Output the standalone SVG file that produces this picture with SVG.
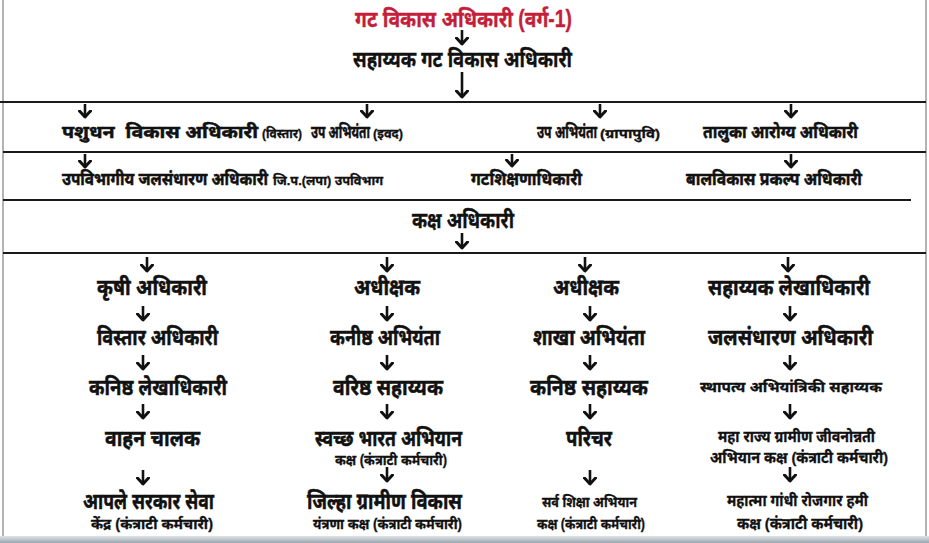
<svg xmlns="http://www.w3.org/2000/svg" width="929" height="543" viewBox="0 0 929 543">
<defs>
<style>
text{font-family:"Liberation Sans","Noto Sans Devanagari","Noto Sans",sans-serif;font-weight:bold;fill:#111;stroke:#111;stroke-width:0.35}
.t{fill:#c41e3a;stroke:#c41e3a;font-size:23px}
.h{font-size:22px}
.r{font-size:12.5px;stroke-width:0.35}
.s{font-size:8.5px;stroke-width:0.2}
.m{font-size:23px;stroke-width:0.5}
.n{font-size:14.5px;stroke-width:0.3}
.k{font-size:15.5px;stroke-width:0.3}
.ln{stroke:#1a1a1a;stroke-width:2.2}
.bd{stroke:#9a9a9a;stroke-width:1.5}
.ar{stroke:#111;stroke-width:2.6;fill:none;marker-end:url(#ah)}
</style>
<marker id="ah" viewBox="0 0 9 14" refX="7.5" refY="7" markerWidth="9" markerHeight="14" markerUnits="userSpaceOnUse" orient="auto">
<path d="M1.5,1.5 L7.5,7 L1.5,12.5" fill="none" stroke="#111" stroke-width="3" stroke-linecap="round" stroke-linejoin="round"/>
</marker>
<linearGradient id="bot" x1="0" y1="0" x2="0" y2="1">
<stop offset="0" stop-color="#dfe4e8"/>
<stop offset="1" stop-color="#9aa6ae"/>
</linearGradient>
</defs>
<rect width="929" height="543" fill="#fff"/>
<g id="frame">
<line class="bd" x1="3" y1="0" x2="3" y2="538"/>
<line class="bd" x1="926" y1="0" x2="926" y2="538"/>
<line class="ln" x1="0" y1="102" x2="926" y2="102"/>
<line class="ln" x1="3" y1="152" x2="926" y2="152"/>
<line class="ln" x1="3" y1="200" x2="911" y2="200"/>
<line class="ln" x1="3" y1="253" x2="926" y2="253"/>
<rect x="0" y="536" width="929" height="7" fill="url(#bot)"/>
</g>
<g id="connectors">
<line class="ar" x1="462" y1="30" x2="462" y2="44"/>
<line class="ar" x1="462" y1="72" x2="462" y2="97"/>
<line class="ar" x1="85" y1="104" x2="85" y2="117"/>
<line class="ar" x1="367" y1="104" x2="367" y2="117"/>
<line class="ar" x1="600" y1="104" x2="600" y2="117"/>
<line class="ar" x1="791" y1="104" x2="791" y2="117"/>
<line class="ar" x1="85" y1="154" x2="85" y2="167"/>
<line class="ar" x1="512" y1="154" x2="512" y2="166"/>
<line class="ar" x1="791" y1="154" x2="791" y2="167"/>
<line class="ar" x1="462" y1="233" x2="462" y2="248"/>
<line class="ar" x1="147" y1="257" x2="147" y2="271"/>
<line class="ar" x1="387" y1="257" x2="387" y2="271"/>
<line class="ar" x1="585" y1="257" x2="585" y2="271"/>
<line class="ar" x1="788" y1="257" x2="788" y2="271"/>
<line class="ar" x1="143" y1="306" x2="143" y2="320"/>
<line class="ar" x1="387" y1="306" x2="387" y2="320"/>
<line class="ar" x1="590" y1="306" x2="590" y2="320"/>
<line class="ar" x1="790" y1="306" x2="790" y2="320"/>
<line class="ar" x1="143" y1="355" x2="143" y2="369"/>
<line class="ar" x1="387" y1="355" x2="387" y2="369"/>
<line class="ar" x1="590" y1="355" x2="590" y2="369"/>
<line class="ar" x1="790" y1="355" x2="790" y2="369"/>
<line class="ar" x1="143" y1="404" x2="143" y2="418"/>
<line class="ar" x1="387" y1="404" x2="387" y2="418"/>
<line class="ar" x1="590" y1="404" x2="590" y2="418"/>
<line class="ar" x1="790" y1="404" x2="790" y2="418"/>
<line class="ar" x1="143" y1="470" x2="143" y2="484"/>
<line class="ar" x1="387" y1="467" x2="387" y2="481"/>
<line class="ar" x1="590" y1="470" x2="590" y2="484"/>
<line class="ar" x1="790" y1="467" x2="790" y2="481"/>
</g>
<g id="n-bdo"><text class="t" x="355" y="27" textLength="217" lengthAdjust="spacingAndGlyphs">गट विकास अधिकारी (वर्ग-1)</text></g>
<g id="n-abdo"><text class="h" x="353" y="67" textLength="219" lengthAdjust="spacingAndGlyphs">सहाय्यक गट विकास अधिकारी</text></g>
<g id="n-pashu"><text class="r" transform="translate(62,138) scale(1,1.45)" textLength="196" lengthAdjust="spacingAndGlyphs" xml:space="preserve">पशुधन  विकास अधिकारी</text><text class="s" transform="translate(262,138) scale(1,1.45)" textLength="40" lengthAdjust="spacingAndGlyphs">(विस्तार)</text></g>
<g id="n-upiwd"><text class="r" transform="translate(311,138) scale(1,1.45)" textLength="59" lengthAdjust="spacingAndGlyphs">उप अभियंता</text><text class="s" transform="translate(373,138) scale(1,1.45)" textLength="30" lengthAdjust="spacingAndGlyphs">(इवद)</text></g>
<g id="n-uprwss"><text class="r" transform="translate(537,138) scale(1,1.45)" textLength="60" lengthAdjust="spacingAndGlyphs">उप अभियंता</text><text class="s" transform="translate(600,138) scale(1,1.45)" textLength="60" lengthAdjust="spacingAndGlyphs">(ग्रापापुवि)</text></g>
<g id="n-tho"><text class="r" transform="translate(703,138) scale(1,1.45)" textLength="155" lengthAdjust="spacingAndGlyphs">तालुका आरोग्य अधिकारी</text></g>
<g id="n-jal"><text class="r" transform="translate(62,185) scale(1,1.45)" textLength="206" lengthAdjust="spacingAndGlyphs">उपविभागीय जलसंधारण अधिकारी</text><text class="s" transform="translate(273,185) scale(1,1.45)" textLength="110" lengthAdjust="spacingAndGlyphs">जि.प.(लपा) उपविभाग</text></g>
<g id="n-beo"><text class="r" transform="translate(471,185) scale(1,1.45)" textLength="111" lengthAdjust="spacingAndGlyphs">गटशिक्षणाधिकारी</text></g>
<g id="n-cdpo"><text class="r" transform="translate(686,185) scale(1,1.45)" textLength="176" lengthAdjust="spacingAndGlyphs">बालविकास प्रकल्प अधिकारी</text></g>
<g id="n-kaksh"><text class="h" x="412" y="228" textLength="102" lengthAdjust="spacingAndGlyphs">कक्ष अधिकारी</text></g>
<g id="c1">
<g id="n-krushi"><text class="m" x="97" y="295" textLength="110" lengthAdjust="spacingAndGlyphs">कृषी अधिकारी</text></g>
<g id="n-vistar"><text class="m" x="97" y="345" textLength="121" lengthAdjust="spacingAndGlyphs">विस्तार अधिकारी</text></g>
<g id="n-klekha"><text class="m" x="89" y="395" textLength="138" lengthAdjust="spacingAndGlyphs">कनिष्ठ लेखाधिकारी</text></g>
<g id="n-vahan"><text class="m" x="105" y="446" textLength="95" lengthAdjust="spacingAndGlyphs">वाहन चालक</text></g>
<g id="n-aaple"><text class="m" x="83" y="509" textLength="131" lengthAdjust="spacingAndGlyphs">आपले सरकार सेवा</text><text class="n" x="91" y="529" textLength="122" lengthAdjust="spacingAndGlyphs">केंद्र (कंत्राटी कर्मचारी)</text></g>
</g>
<g id="c2">
<g id="n-adhi1"><text class="m" x="354" y="295" textLength="66" lengthAdjust="spacingAndGlyphs">अधीक्षक</text></g>
<g id="n-kabhi"><text class="m" x="330" y="345" textLength="110" lengthAdjust="spacingAndGlyphs">कनीष्ठ अभियंता</text></g>
<g id="n-varishtha"><text class="m" x="333" y="395" textLength="110" lengthAdjust="spacingAndGlyphs">वरिष्ठ सहाय्यक</text></g>
<g id="n-swachh"><text class="m" x="315" y="446" textLength="147" lengthAdjust="spacingAndGlyphs">स्वच्छ भारत अभियान</text><text class="n" x="335" y="465" textLength="112" lengthAdjust="spacingAndGlyphs">कक्ष (कंत्राटी कर्मचारी)</text></g>
<g id="n-drda"><text class="m" x="307" y="509" textLength="155" lengthAdjust="spacingAndGlyphs">जिल्हा ग्रामीण विकास</text><text class="n" x="313" y="529" textLength="149" lengthAdjust="spacingAndGlyphs">यंत्रणा कक्ष (कंत्राटी कर्मचारी)</text></g>
</g>
<g id="c3">
<g id="n-adhi2"><text class="m" x="553" y="295" textLength="66" lengthAdjust="spacingAndGlyphs">अधीक्षक</text></g>
<g id="n-shakha"><text class="m" x="533" y="345" textLength="112" lengthAdjust="spacingAndGlyphs">शाखा अभियंता</text></g>
<g id="n-ksah"><text class="m" x="530" y="395" textLength="118" lengthAdjust="spacingAndGlyphs">कनिष्ठ सहाय्यक</text></g>
<g id="n-parichar"><text class="m" x="566" y="446" textLength="46" lengthAdjust="spacingAndGlyphs">परिचर</text></g>
<g id="n-ssa"><text class="n" x="542" y="507" textLength="95" lengthAdjust="spacingAndGlyphs">सर्व शिक्षा अभियान</text><text class="n" x="537" y="529" textLength="108" lengthAdjust="spacingAndGlyphs">कक्ष (कंत्राटी कर्मचारी)</text></g>
</g>
<g id="c4">
<g id="n-slekha"><text class="m" x="708" y="295" textLength="162" lengthAdjust="spacingAndGlyphs">सहाय्यक लेखाधिकारी</text></g>
<g id="n-jalsan"><text class="m" x="708" y="345" textLength="165" lengthAdjust="spacingAndGlyphs">जलसंधारण अधिकारी</text></g>
<g id="n-sthapatya"><text class="n" x="700" y="392" textLength="182" lengthAdjust="spacingAndGlyphs">स्थापत्य अभियांत्रिकी सहाय्यक</text></g>
<g id="n-msrlm"><text class="k" x="718" y="442" textLength="157" lengthAdjust="spacingAndGlyphs">महा राज्य ग्रामीण जीवनोन्नती</text><text class="k" x="710" y="463" textLength="178" lengthAdjust="spacingAndGlyphs">अभियान कक्ष (कंत्राटी कर्मचारी)</text></g>
<g id="n-mgnrega"><text class="k" x="727" y="506" textLength="141" lengthAdjust="spacingAndGlyphs">महात्मा गांधी रोजगार हमी</text><text class="k" x="737" y="529" textLength="126" lengthAdjust="spacingAndGlyphs">कक्ष (कंत्राटी कर्मचारी)</text></g>
</g>
</svg>
